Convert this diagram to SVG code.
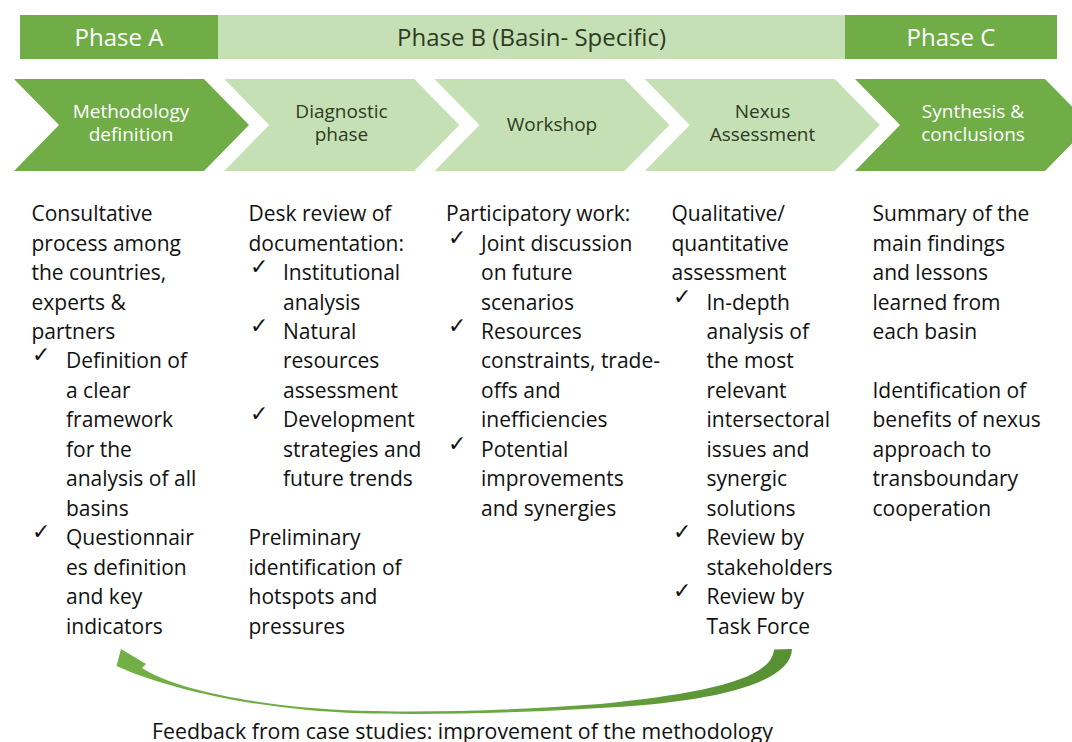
<svg xmlns="http://www.w3.org/2000/svg" width="1072" height="742" viewBox="0 0 1072 742">
  <defs>
    <style>
      .dark { fill: #70AD47; }
      .light { fill: #C5E0B4; }
      .phase { font-family: "Open Sans", "Liberation Sans", sans-serif; font-size: 24px; text-anchor: middle; }
      .step { font-family: "Open Sans", "Liberation Sans", sans-serif; font-size: 19px; text-anchor: middle; }
      .onDark { fill: #FFFFFF; }
      .onLight { fill: #2E3A24; }
      .body { font-family: "Open Sans", "Liberation Sans", sans-serif; font-size: 21px; fill: #111111; }
      .tick { font-family: "DejaVu Sans", sans-serif; font-size: 22px; fill: #111111; }
      .note { font-family: "Open Sans", "Liberation Sans", sans-serif; font-size: 21.3px; fill: #111111; }
    </style>
    <linearGradient id="loopFill" x1="0" y1="0" x2="1" y2="0">
      <stop offset="0" stop-color="#72B046"/>
      <stop offset="0.6" stop-color="#6AA641"/>
      <stop offset="1" stop-color="#578F33"/>
    </linearGradient>
    <polygon id="chev" points="0,79 190,79 235,125 190,171 0,171 45,125"/>
  </defs>

  <!-- phase header bars -->
  <g id="phase-a">
    <rect class="dark" x="20" y="15" width="198" height="44"/>
    <text class="phase onDark" x="119" y="45.5">Phase A</text>
  </g>
  <g id="phase-b">
    <rect class="light" x="218" y="15" width="627" height="44"/>
    <text class="phase onLight" x="531.5" y="45.5">Phase B (Basin- Specific)</text>
  </g>
  <g id="phase-c">
    <rect class="dark" x="845" y="15" width="212" height="44"/>
    <text class="phase onDark" x="951" y="45.5">Phase C</text>
  </g>

  <!-- process chevrons -->
  <g id="step-methodology">
    <use href="#chev" class="dark" x="14"/>
    <text class="step onDark" x="131" y="117.5">Methodology</text>
    <text class="step onDark" x="131" y="140.5">definition</text>
  </g>
  <g id="step-diagnostic">
    <use href="#chev" class="light" x="224.25"/>
    <text class="step onLight" x="341.5" y="117.5">Diagnostic</text>
    <text class="step onLight" x="341.5" y="140.5">phase</text>
  </g>
  <g id="step-workshop">
    <use href="#chev" class="light" x="434.5"/>
    <text class="step onLight" x="552" y="131">Workshop</text>
  </g>
  <g id="step-nexus">
    <use href="#chev" class="light" x="644.75"/>
    <text class="step onLight" x="762.5" y="117.5">Nexus</text>
    <text class="step onLight" x="762.5" y="140.5">Assessment</text>
  </g>
  <g id="step-synthesis">
    <use href="#chev" class="dark" x="855"/>
    <text class="step onDark" x="973" y="117.5">Synthesis &amp;</text>
    <text class="step onDark" x="973" y="140.5">conclusions</text>
  </g>

  <!-- column texts -->
  <g id="text-methodology">
    <text class="body" x="31.5" y="221">Consultative</text>
    <text class="body" x="31.5" y="250.5">process among</text>
    <text class="body" x="31.5" y="280">the countries,</text>
    <text class="body" x="31.5" y="309.5">experts &amp;</text>
    <text class="body" x="31.5" y="339">partners</text>
    <text class="tick" x="32" y="362">✓</text>
    <text class="body" x="66" y="368">Definition of</text>
    <text class="body" x="66" y="397.5">a clear</text>
    <text class="body" x="66" y="427">framework</text>
    <text class="body" x="66" y="456.5">for the</text>
    <text class="body" x="66" y="486">analysis of all</text>
    <text class="body" x="66" y="515.5">basins</text>
    <text class="tick" x="32" y="539">✓</text>
    <text class="body" x="66" y="545">Questionnair</text>
    <text class="body" x="66" y="574.5">es definition</text>
    <text class="body" x="66" y="604">and key</text>
    <text class="body" x="66" y="633.5">indicators</text>
  </g>
  <g id="text-diagnostic">
    <text class="body" x="248.5" y="221">Desk review of</text>
    <text class="body" x="248.5" y="250.5">documentation:</text>
    <text class="tick" x="250" y="274">✓</text>
    <text class="body" x="283" y="280">Institutional</text>
    <text class="body" x="283" y="309.5">analysis</text>
    <text class="tick" x="250" y="333">✓</text>
    <text class="body" x="283" y="339">Natural</text>
    <text class="body" x="283" y="368">resources</text>
    <text class="body" x="283" y="397.5">assessment</text>
    <text class="tick" x="250" y="421">✓</text>
    <text class="body" x="283" y="427">Development</text>
    <text class="body" x="283" y="456.5">strategies and</text>
    <text class="body" x="283" y="486">future trends</text>
    <text class="body" x="248.5" y="545">Preliminary</text>
    <text class="body" x="248.5" y="574.5">identification of</text>
    <text class="body" x="248.5" y="604">hotspots and</text>
    <text class="body" x="248.5" y="633.5">pressures</text>
  </g>
  <g id="text-workshop">
    <text class="body" x="446" y="221">Participatory work:</text>
    <text class="tick" x="448" y="244.5">✓</text>
    <text class="body" x="481" y="250.5">Joint discussion</text>
    <text class="body" x="481" y="280">on future</text>
    <text class="body" x="481" y="309.5">scenarios</text>
    <text class="tick" x="448" y="333">✓</text>
    <text class="body" x="481" y="339">Resources</text>
    <text class="body" x="481" y="368">constraints, trade-</text>
    <text class="body" x="481" y="397.5">offs and</text>
    <text class="body" x="481" y="427">inefficiencies</text>
    <text class="tick" x="448" y="450.5">✓</text>
    <text class="body" x="481" y="456.5">Potential</text>
    <text class="body" x="481" y="486">improvements</text>
    <text class="body" x="481" y="515.5">and synergies</text>
  </g>
  <g id="text-nexus">
    <text class="body" x="671.5" y="221">Qualitative/</text>
    <text class="body" x="671.5" y="250.5">quantitative</text>
    <text class="body" x="671.5" y="280">assessment</text>
    <text class="tick" x="673" y="303.5">✓</text>
    <text class="body" x="706.5" y="309.5">In-depth</text>
    <text class="body" x="706.5" y="339">analysis of</text>
    <text class="body" x="706.5" y="368">the most</text>
    <text class="body" x="706.5" y="397.5">relevant</text>
    <text class="body" x="706.5" y="427">intersectoral</text>
    <text class="body" x="706.5" y="456.5">issues and</text>
    <text class="body" x="706.5" y="486">synergic</text>
    <text class="body" x="706.5" y="515.5">solutions</text>
    <text class="tick" x="673" y="539">✓</text>
    <text class="body" x="706.5" y="545">Review by</text>
    <text class="body" x="706.5" y="574.5">stakeholders</text>
    <text class="tick" x="673" y="598">✓</text>
    <text class="body" x="706.5" y="604">Review by</text>
    <text class="body" x="706.5" y="633.5">Task Force</text>
  </g>
  <g id="text-synthesis">
    <text class="body" x="872.5" y="221">Summary of the</text>
    <text class="body" x="872.5" y="250.5">main findings</text>
    <text class="body" x="872.5" y="280">and lessons</text>
    <text class="body" x="872.5" y="309.5">learned from</text>
    <text class="body" x="872.5" y="339">each basin</text>
    <text class="body" x="872.5" y="397.5">Identification of</text>
    <text class="body" x="872.5" y="427">benefits of nexus</text>
    <text class="body" x="872.5" y="456.5">approach to</text>
    <text class="body" x="872.5" y="486">transboundary</text>
    <text class="body" x="872.5" y="515.5">cooperation</text>
  </g>

  <!-- feedback loop arrow -->
  <g id="connectors">
    <path fill="url(#loopFill)" d="M 792,649 C 791,685 705,703 600,708 C 520,713 430,715 360,713.3 C 260,710 170,690 116.5,666 L 121,649 L 146,664 L 142,668 C 175,690 265,708 360,710.7 C 430,713 520,710 600,704 C 700,694 772,680 774,649.5 Z"/>
  </g>
  <g id="feedback-label">
    <text class="note" x="152" y="738.5">Feedback from case studies: improvement of the methodology</text>
  </g>
</svg>
